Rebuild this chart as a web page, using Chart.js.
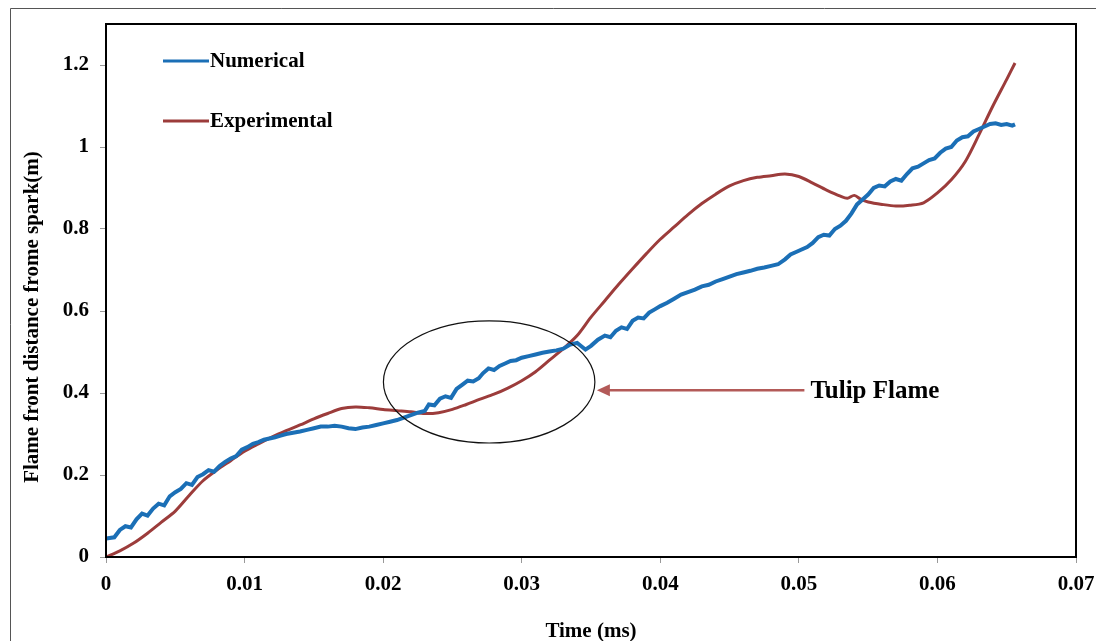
<!DOCTYPE html>
<html>
<head>
<meta charset="utf-8">
<script src="https://cdn.jsdelivr.net/npm/chart.js@4.4.0/dist/chart.umd.min.js"></script>
<style>
  html, body { margin: 0; padding: 0; background: #fff; }
  #wrap { width: 1096px; height: 641px; }
</style>
</head>
<body>
<div id="wrap"><canvas id="plot1" width="1096" height="641"></canvas></div>
<script>
// datos
let xTicks = [0, 0.01, 0.02, 0.03, 0.04, 0.05, 0.06, 0.07];
let yTicks = [0, 0.2, 0.4, 0.6, 0.8, 1, 1.2];

let numTime = [0, 0.0006, 0.001, 0.0014, 0.0018, 0.0022, 0.0026, 0.003, 0.0034, 0.0038, 0.0042, 0.0046,
  0.005, 0.0054, 0.0058, 0.0062, 0.0066, 0.007, 0.0074, 0.0078, 0.0082, 0.0086, 0.009, 0.0094, 0.0098,
  0.0102, 0.0106, 0.011, 0.0114, 0.0118, 0.0122, 0.0126, 0.013, 0.0135, 0.014, 0.0145, 0.015, 0.0155,
  0.016, 0.0165, 0.017, 0.0175, 0.018, 0.0185, 0.019, 0.0195, 0.02, 0.0205, 0.021, 0.0215, 0.022, 0.0225,
  0.023, 0.0233, 0.0237, 0.0241, 0.0245, 0.0249, 0.0253, 0.0257, 0.0261, 0.0265, 0.0269, 0.0272, 0.0276,
  0.028, 0.0284, 0.0288, 0.0292, 0.0296, 0.03, 0.0305, 0.031, 0.0315, 0.032, 0.0325, 0.033, 0.0335, 0.034,
  0.0343, 0.0346, 0.035, 0.0355, 0.036, 0.0364, 0.0368, 0.0372, 0.0376, 0.038, 0.0384, 0.0388, 0.0392,
  0.0396, 0.04, 0.0405, 0.041, 0.0415, 0.042, 0.0425, 0.043, 0.0435, 0.044, 0.0445, 0.045, 0.0455, 0.046,
  0.0465, 0.047, 0.0475, 0.048, 0.0485, 0.049, 0.0494, 0.0498, 0.0502, 0.0506, 0.051, 0.0514, 0.0518,
  0.0522, 0.0526, 0.053, 0.0534, 0.0538, 0.0542, 0.0546, 0.055, 0.0554, 0.0558, 0.0562, 0.0566, 0.057,
  0.0574, 0.0578, 0.0582, 0.0586, 0.059, 0.0594, 0.0598, 0.0602, 0.0606, 0.061, 0.0614, 0.0618, 0.0622,
  0.0626, 0.063, 0.0634, 0.0638, 0.0642, 0.0646, 0.065, 0.0654, 0.0656];
let numDist = [0.045, 0.048, 0.066, 0.075, 0.072, 0.092, 0.106, 0.101, 0.118, 0.13, 0.126, 0.148,
  0.158, 0.166, 0.18, 0.176, 0.195, 0.202, 0.212, 0.208, 0.222, 0.232, 0.24, 0.246, 0.262,
  0.268, 0.276, 0.28, 0.286, 0.289, 0.292, 0.296, 0.3, 0.303, 0.306, 0.31, 0.314, 0.318,
  0.318, 0.32, 0.318, 0.314, 0.312, 0.316, 0.318, 0.322, 0.326, 0.33, 0.334, 0.34, 0.346, 0.352,
  0.356, 0.372, 0.37, 0.386, 0.392, 0.388, 0.41, 0.42, 0.43, 0.428, 0.436, 0.448, 0.46,
  0.456, 0.466, 0.472, 0.478, 0.48, 0.486, 0.49, 0.494, 0.498, 0.501, 0.504, 0.508, 0.518, 0.522,
  0.514, 0.506, 0.515, 0.53, 0.54, 0.536, 0.552, 0.56, 0.556, 0.576, 0.584, 0.582, 0.596,
  0.604, 0.612, 0.62, 0.63, 0.64, 0.646, 0.652, 0.66, 0.664, 0.672, 0.678, 0.684, 0.69, 0.694,
  0.698, 0.703, 0.706, 0.71, 0.714, 0.726, 0.738, 0.744, 0.75, 0.756, 0.766, 0.78, 0.786,
  0.784, 0.8, 0.808, 0.82, 0.838, 0.86, 0.872, 0.884, 0.9, 0.906, 0.904, 0.916, 0.922,
  0.918, 0.934, 0.948, 0.952, 0.96, 0.968, 0.972, 0.986, 0.996, 1.0, 1.016, 1.024, 1.026,
  1.038, 1.044, 1.05, 1.056, 1.058, 1.054, 1.056, 1.052, 1.055];

let expTime = [0, 0.001, 0.002, 0.003, 0.004, 0.005, 0.006, 0.007, 0.008, 0.009, 0.01, 0.011, 0.012,
  0.013, 0.014, 0.015, 0.016, 0.017, 0.018, 0.019, 0.02, 0.021, 0.022, 0.023, 0.024, 0.025, 0.026,
  0.027, 0.028, 0.029, 0.03, 0.031, 0.032, 0.033, 0.034, 0.035, 0.036, 0.037, 0.038, 0.039, 0.04,
  0.041, 0.042, 0.043, 0.044, 0.045, 0.046, 0.047, 0.048, 0.049, 0.05, 0.051, 0.052, 0.053, 0.0535,
  0.054, 0.0545, 0.055, 0.056, 0.057, 0.058, 0.059, 0.06, 0.061, 0.062, 0.063, 0.064, 0.065, 0.0656];
let expDist = [0, 0.015, 0.034, 0.058, 0.085, 0.112, 0.15, 0.186, 0.212, 0.235, 0.258, 0.276, 0.293,
  0.308, 0.322, 0.337, 0.35, 0.362, 0.366, 0.364, 0.36, 0.357, 0.354, 0.35, 0.352, 0.36, 0.372,
  0.385, 0.397, 0.412, 0.43, 0.452, 0.48, 0.508, 0.54, 0.585, 0.625, 0.665, 0.703, 0.74, 0.775,
  0.805, 0.835, 0.862, 0.885, 0.905, 0.918, 0.926, 0.93, 0.934, 0.928, 0.912, 0.895, 0.88, 0.875,
  0.882, 0.872, 0.866, 0.86, 0.856, 0.858, 0.864, 0.888, 0.92, 0.964, 1.03, 1.1, 1.165, 1.205];

let serie1 = 'Numerical';
let serie2 = 'Experimental';
let colorNum = '#1b6fb6';
let colorExp = '#9c3c3b';
let fuente = '"Liberation Serif", "Times New Roman", serif';

let toPoints = (xs, ys) => xs.map((x, i) => ({x: x, y: ys[i]}));
let etiqueta = v => String(+v.toFixed(3));

// marco, leyenda, elipse y flecha
let decoracion = {
  id: 'decoracion',
  beforeDraw: (chart) => {
    let ctx = chart.ctx;
    ctx.save();
    ctx.fillStyle = '#fff';
    ctx.fillRect(0, 0, chart.width, chart.height);
    ctx.strokeStyle = '#555';
    ctx.lineWidth = 1;
    ctx.beginPath();
    ctx.moveTo(10.5, chart.height);
    ctx.lineTo(10.5, 8.5);
    ctx.lineTo(chart.width, 8.5);
    ctx.stroke();
    ctx.restore();
  },
  afterDraw: (chart) => {
    let ctx = chart.ctx;
    let a = chart.chartArea;
    let xs = chart.scales.x, ys = chart.scales.y;
    ctx.save();
    // recuadro del area
    ctx.strokeStyle = '#000';
    ctx.lineWidth = 2;
    ctx.strokeRect(a.left, a.top, a.right - a.left, a.bottom - a.top);

    // leyenda
    ctx.font = 'bold 21px ' + fuente;
    ctx.textBaseline = 'middle';
    ctx.fillStyle = '#000';
    [[serie1, colorNum, 61], [serie2, colorExp, 121]].forEach(it => {
      ctx.strokeStyle = it[1];
      ctx.lineWidth = 3;
      ctx.beginPath();
      ctx.moveTo(a.left + 57, it[2]);
      ctx.lineTo(a.left + 103, it[2]);
      ctx.stroke();
      ctx.fillText(it[0], a.left + 104, it[2] + 1);
    });

    // elipse
    let cx = xs.getPixelForValue(0.02765), cy = ys.getPixelForValue(0.427);
    let rx = xs.getPixelForValue(0.02765 + 0.00763) - cx;
    let ry = cy - ys.getPixelForValue(0.427 + 0.149);
    ctx.strokeStyle = '#111';
    ctx.lineWidth = 1.2;
    ctx.beginPath();
    ctx.ellipse(cx, cy, rx, ry, 0, 0, Math.PI * 2);
    ctx.stroke();

    // flecha
    let y0 = ys.getPixelForValue(0.407);
    let x1 = xs.getPixelForValue(0.0504), x2 = cx + rx + 2;
    ctx.strokeStyle = '#b35a58';
    ctx.fillStyle = '#b35a58';
    ctx.lineWidth = 2.5;
    ctx.beginPath();
    ctx.moveTo(x1, y0);
    ctx.lineTo(x2 + 10, y0);
    ctx.stroke();
    ctx.beginPath();
    ctx.moveTo(x2, y0);
    ctx.lineTo(x2 + 13, y0 - 6);
    ctx.lineTo(x2 + 13, y0 + 6);
    ctx.closePath();
    ctx.fill();

    ctx.fillStyle = '#000';
    ctx.font = 'bold 25px ' + fuente;
    ctx.textBaseline = 'middle';
    ctx.fillText('Tulip Flame', x1 + 6, y0 + 1);

    // titulos de ejes
    ctx.font = 'bold 21px ' + fuente;
    ctx.textAlign = 'center';
    ctx.fillText('Time (ms)', (a.left + a.right) / 2, 632);
    ctx.translate(33, 317);
    ctx.rotate(-Math.PI / 2);
    ctx.fillText('Flame front distance frome spark(m)', 0, 0);
    ctx.restore();
  }
};

let plotRef = document.getElementById('plot1');
let config = {
  type: 'line',
  data: {
    datasets: [
      {
        label: serie1,
        data: toPoints(numTime, numDist),
        borderColor: colorNum,
        borderWidth: 4,
        pointRadius: 0,
        tension: 0
      },
      {
        label: serie2,
        data: toPoints(expTime, expDist),
        borderColor: colorExp,
        borderWidth: 3,
        pointRadius: 0,
        tension: 0.3
      }
    ]
  },
  options: {
    responsive: false,
    animation: false,
    layout: { padding: { left: 0, top: 24, right: 20, bottom: 0 } },
    plugins: { legend: { display: false }, tooltip: { enabled: false } },
    scales: {
      x: {
        type: 'linear',
        min: 0,
        max: 0.07,
        afterBuildTicks: axis => { axis.ticks = xTicks.map(v => ({value: v})); },
        afterFit: axis => { axis.height = 84; axis.paddingLeft = 0; axis.paddingRight = 0; },
        grid: { drawOnChartArea: false, color: '#999', tickLength: 6 },
        border: { color: '#000', width: 2 },
        ticks: {
          color: '#000',
          padding: 9,
          maxRotation: 0,
          font: { family: fuente, size: 21, weight: 'bold' },
          callback: v => etiqueta(v)
        }
      },
      y: {
        min: 0,
        max: 1.3,
        afterBuildTicks: axis => { axis.ticks = yTicks.map(v => ({value: v})); },
        afterFit: axis => { axis.width = 106; axis.paddingTop = 0; axis.paddingBottom = 0; },
        grid: { drawOnChartArea: false, color: '#999', tickLength: 6 },
        border: { color: '#000', width: 2 },
        ticks: {
          color: '#000',
          padding: 11,
          font: { family: fuente, size: 21, weight: 'bold' },
          callback: v => etiqueta(v)
        }
      }
    }
  },
  plugins: [decoracion]
};
let chart1 = new Chart(plotRef, config);
</script>
</body>
</html>
